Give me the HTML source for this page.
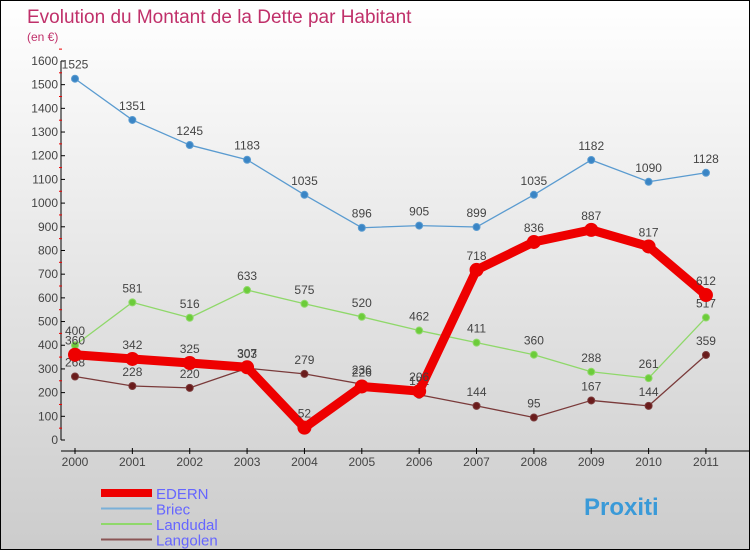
<!DOCTYPE html>
<html><head><meta charset="utf-8"><style>
html,body{margin:0;padding:0}
body{width:750px;height:550px;overflow:hidden;font-family:"Liberation Sans",sans-serif}
#wrap{position:relative;width:748px;height:548px;border:1px solid #000;background:linear-gradient(#fff,#ccc)}
</style></head><body>
<div id="wrap">
<svg id="chart" width="748" height="548"></svg>
</div>
<script>
const years=["2000","2001","2002","2003","2004","2005","2006","2007","2008","2009","2010","2011"];
const yTicks=[0,100,200,300,400,500,600,700,800,900,1000,1100,1200,1300,1400,1500,1600];
const edern=[360,342,325,307,52,226,206,718,836,887,817,612];
const briec=[1525,1351,1245,1183,1035,896,905,899,1035,1182,1090,1128];
const landudal=[400,581,516,633,575,520,462,411,360,288,261,517];
const langolen=[268,228,220,303,279,236,191,144,95,167,144,359];
const NS="http://www.w3.org/2000/svg";
const svg=document.getElementById('chart');
const X=i=>74+i*57.36;
const Y=v=>439-v*0.2369;
function mk(t,a,p){const e=document.createElementNS(NS,t);for(const k in a)e.setAttribute(k,a[k]);(p||svg).appendChild(e);return e;}
let t=mk('text',{x:26,y:22,fill:'#c0306a','font-size':19});t.textContent='Evolution du Montant de la Dette par Habitant';


t=mk('text',{x:26,y:40,fill:'#c0306a','font-size':12});t.textContent='(en €)';


const ya=mk('g',{});


mk('line',{x1:60,y1:Y(1600),x2:60,y2:Y(0),stroke:'#000'},ya);
yTicks.forEach(v=>{
 mk('line',{x1:60,y1:Y(v),x2:64,y2:Y(v),stroke:'#000'},ya);
 mk('line',{x1:58,y1:Y(v+50),x2:61,y2:Y(v+50),stroke:'#e00'},ya);
 const l=mk('text',{x:57,y:Y(v)+4,'text-anchor':'end','font-size':12,fill:'#444'},ya);l.textContent=v;
});
const xa=mk('g',{});


mk('line',{x1:60,y1:450,x2:748,y2:450,stroke:'#000'},xa);
years.forEach((y,i)=>{
 mk('line',{x1:X(i),y1:447,x2:X(i),y2:453,stroke:'#000'},xa);
 const l=mk('text',{x:X(i),y:465,'text-anchor':'middle','font-size':12,fill:'#444'},xa);l.textContent=y;
});
function series(data,color,w,r,name,dot){
 const g=mk('g',{});
 
 
 mk('polyline',{points:data.map((v,i)=>X(i)+','+Y(v)).join(' '),fill:'none',stroke:color,'stroke-width':w,'stroke-linejoin':'round'},g);
 data.forEach((v,i)=>{
  const c=mk('circle',{cx:X(i),cy:Y(v),r:r,fill:dot,stroke:color},g);
  
  
  const l=mk('text',{x:X(i),y:Y(v)-10,'text-anchor':'middle','font-size':12,fill:'#444'},g);l.textContent=v;
 });
}
series(briec,'#5a9bd0',1.3,3.5,'briec-series','#3a85c5');
series(landudal,'#8fd86a',1.3,3.5,'landudal-series','#6ccc3a');
series(langolen,'#7a3a3a',1.3,3.5,'langolen-series','#6a1c1c');
series(edern,'#ee0000',9,6.5,'edern-series','#ee0000');
const leg=[['EDERN','#ee0000',8],['Briec','#7ab0d8',2],['Landudal','#8fd86a',2],['Langolen','#8a5555',2]];
leg.forEach((e,i)=>{
 const g=mk('g',{});
 
 
 const y=493+i*15.5;
 mk('line',{x1:100,y1:y-1,x2:151,y2:y-1,stroke:e[1],'stroke-width':e[2]},g);
 const l=mk('text',{x:155,y:y+5,'font-size':15,fill:'#6666ff'},g);l.textContent=e[0];
});
t=mk('text',{x:583,y:514,'font-size':24,'font-weight':'bold',fill:'#3a9ad8'});t.textContent='Proxiti';


</script>
</body></html>
